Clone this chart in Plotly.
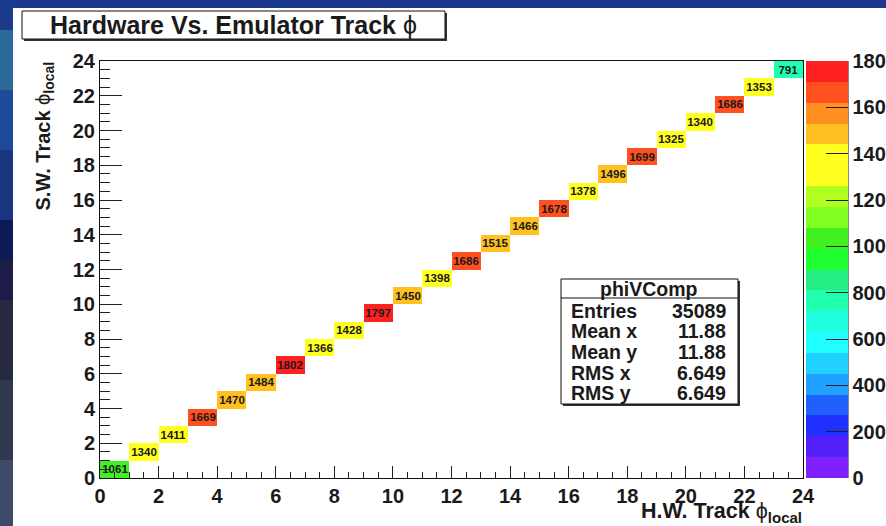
import plotly.graph_objects as go

# ---------------- data ----------------
bin_edges = [0, 1, 2, 3, 4, 5, 6, 7, 8, 9, 10, 11, 12, 13, 14, 15, 16, 17, 18, 19, 20, 21, 22, 23, 24]
diag_counts = [1061, 1340, 1411, 1669, 1470, 1484, 1802, 1366, 1428, 1797, 1450, 1398,
               1686, 1515, 1466, 1678, 1378, 1496, 1699, 1325, 1340, 1686, 1353, 791]
x_tick_vals = [0, 2, 4, 6, 8, 10, 12, 14, 16, 18, 20, 22, 24]
y_tick_vals = [0, 2, 4, 6, 8, 10, 12, 14, 16, 18, 20, 22, 24]
z_tick_vals = [0, 200, 400, 600, 800, 1000, 1200, 1400, 1600, 1800]
z_tick_text = ["0", "200", "400", "600", "800", "1000", "1200", "1400", "1600", "1800"]
stats_title = "phiVComp"
stats_labels = ["Entries", "Mean x", "Mean y", "RMS x", "RMS y"]
stats_values = ["35089", "11.88", "11.88", "6.649", "6.649"]
z_min, z_max = 0, 1800
palette = ["#8020ff", "#5220f8", "#2030ff", "#2060ff", "#20a0ff", "#20d0ff", "#20ffff",
           "#20ffe0", "#20ffb0", "#25ee85", "#20ff30", "#40f020", "#80ff20", "#b0ff20",
           "#ffff20", "#ffff20", "#ffc020", "#ff9020", "#ff5020", "#ff2020"]

# ---------------- geometry helpers ----------------
W, H = 886, 526
L, R, T, B = 100, 803, 61, 478   # plot area in pixels
FONT = "Liberation Sans, Arial, sans-serif"


def px(xp):
    return (xp - L) / (R - L)


def py(yp):
    return (B - yp) / (B - T)


n = len(diag_counts)
z = [[None] * n for _ in range(n)]
text = [[""] * n for _ in range(n)]
for i, c in enumerate(diag_counts):
    z[i][i] = c
    text[i][i] = str(c)

cs = []
for k, col in enumerate(palette):
    cs.append([k / len(palette), col])
    cs.append([(k + 1) / len(palette), col])

fig = go.Figure()
fig.add_trace(go.Heatmap(
    x=bin_edges, y=bin_edges, z=z, text=text, texttemplate="%{text}",
    textfont=dict(family=FONT, size=11.5, color="#1a1a1a", weight="bold"),
    colorscale=cs, zmin=z_min, zmax=z_max, hoverongaps=False,
    colorbar=dict(
        x=px(806), xanchor="left", y=0, yanchor="bottom", len=1, lenmode="fraction",
        thickness=42, thicknessmode="pixels", xpad=0, ypad=0, outlinewidth=0,
        ticks="inside", ticklen=22, tickwidth=1, tickcolor="#222",
        tickmode="array", tickvals=z_tick_vals, ticktext=z_tick_text,
        tickfont=dict(family=FONT, size=20, color="#1a1a1a", weight="bold"),
    ),
))

axis_font = dict(family=FONT, size=20, color="#1a1a1a", weight="bold")
fig.update_xaxes(
    range=[0, 24], tickmode="array", tickvals=x_tick_vals, ticks="inside", ticklen=12,
    tickcolor="#222", tickwidth=1, showline=True, linecolor="#111", linewidth=1, mirror=True,
    showgrid=False, zeroline=False, tickfont=axis_font,
    minor=dict(tickmode="linear", tick0=0, dtick=0.5, ticks="inside", ticklen=6,
               tickcolor="#222", showgrid=False),
)
fig.update_yaxes(
    range=[0, 24], tickmode="array", tickvals=y_tick_vals, ticks="inside", ticklen=22,
    tickcolor="#222", tickwidth=1, showline=True, linecolor="#111", linewidth=1, mirror=True,
    showgrid=False, zeroline=False, tickfont=axis_font,
    minor=dict(tickmode="linear", tick0=0, dtick=0.5, ticks="inside", ticklen=10,
               tickcolor="#222", showgrid=False),
)

shapes = []


def rect(x0, y0, x1, y1, fill, line=None, lw=0, layer="below"):
    shapes.append(dict(type="rect", xref="paper", yref="paper",
                       x0=px(x0), x1=px(x1), y0=py(y1), y1=py(y0),
                       fillcolor=fill, line=dict(color=line or fill, width=lw), layer=layer))


# slide background (blue) strips
left_strip = [(0, 30, "#1a3a8c"), (30, 90, "#2a6a98"), (90, 150, "#1f4a9a"),
              (150, 220, "#1a3580"), (220, 260, "#0e1a58"), (260, 300, "#1c1c48"),
              (300, 380, "#262a40"), (380, 460, "#303850"), (460, 526, "#3e4a68")]
for y0, y1, col in left_strip:
    rect(0, y0, 13, y1, col)
rect(13, 0, 886, 8, "#1b3790")
rect(13, 8, 886, 526, "white")

# title box with shadow
rect(24, 13, 447, 41, "#333333", layer="above")
rect(22, 11, 445, 39, "white", line="#111", lw=1, layer="above")

# stats box with shadow
rect(563, 281, 740, 406, "#333333", layer="above")
rect(561, 279, 738, 404, "white", line="#111", lw=1, layer="above")
shapes.append(dict(type="line", xref="paper", yref="paper", x0=px(561), x1=px(738),
                   y0=py(298), y1=py(298), line=dict(color="#111", width=1), layer="above"))

# colorbar axis line
shapes.append(dict(type="line", xref="paper", yref="paper", x0=px(848), x1=px(848),
                   y0=0, y1=1, line=dict(color="#111", width=1), layer="above"))

annotations = []
phi = '<span style="font-weight:normal">ϕ</span>'
annotations.append(dict(text="Hardware Vs. Emulator Track " + phi, x=px(233), y=py(25),
                        xref="paper", yref="paper", showarrow=False, xanchor="center",
                        yanchor="middle",
                        font=dict(family=FONT, size=25, color="#1a1a1a", weight="bold")))
annotations.append(dict(text="H.W. Track " + phi + "<sub>local</sub>", x=px(804), y=py(512),
                        xref="paper", yref="paper", showarrow=False, xanchor="right",
                        yanchor="middle",
                        font=dict(family=FONT, size=21.5, color="#1a1a1a", weight="bold")))
annotations.append(dict(text="S.W. Track " + phi + "<sub>local</sub>", x=px(44), y=py(60),
                        xref="paper", yref="paper", showarrow=False, xanchor="center",
                        yanchor="top", textangle=-90,
                        font=dict(family=FONT, size=20, color="#1a1a1a", weight="bold")))

stats_font = dict(family=FONT, size=19.5, color="#1a1a1a", weight="bold")
annotations.append(dict(text=stats_title, x=px(649), y=py(289), xref="paper", yref="paper",
                        showarrow=False, xanchor="center", yanchor="middle", font=stats_font))
row_y = [311, 331, 352, 373, 393]
for lab, val, yy in zip(stats_labels, stats_values, row_y):
    annotations.append(dict(text=lab, x=px(569), y=py(yy), xref="paper", yref="paper",
                            showarrow=False, xanchor="left", yanchor="middle", font=stats_font))
    annotations.append(dict(text=val, x=px(728), y=py(yy), xref="paper", yref="paper",
                            showarrow=False, xanchor="right", yanchor="middle", font=stats_font))

fig.update_layout(
    width=W, height=H, autosize=False,
    margin=dict(l=L, r=W - R, t=T, b=H - B, pad=0, autoexpand=False),
    paper_bgcolor="#1b3790", plot_bgcolor="white",
    shapes=shapes, annotations=annotations, showlegend=False,
)

fig.write_html("out.html")
